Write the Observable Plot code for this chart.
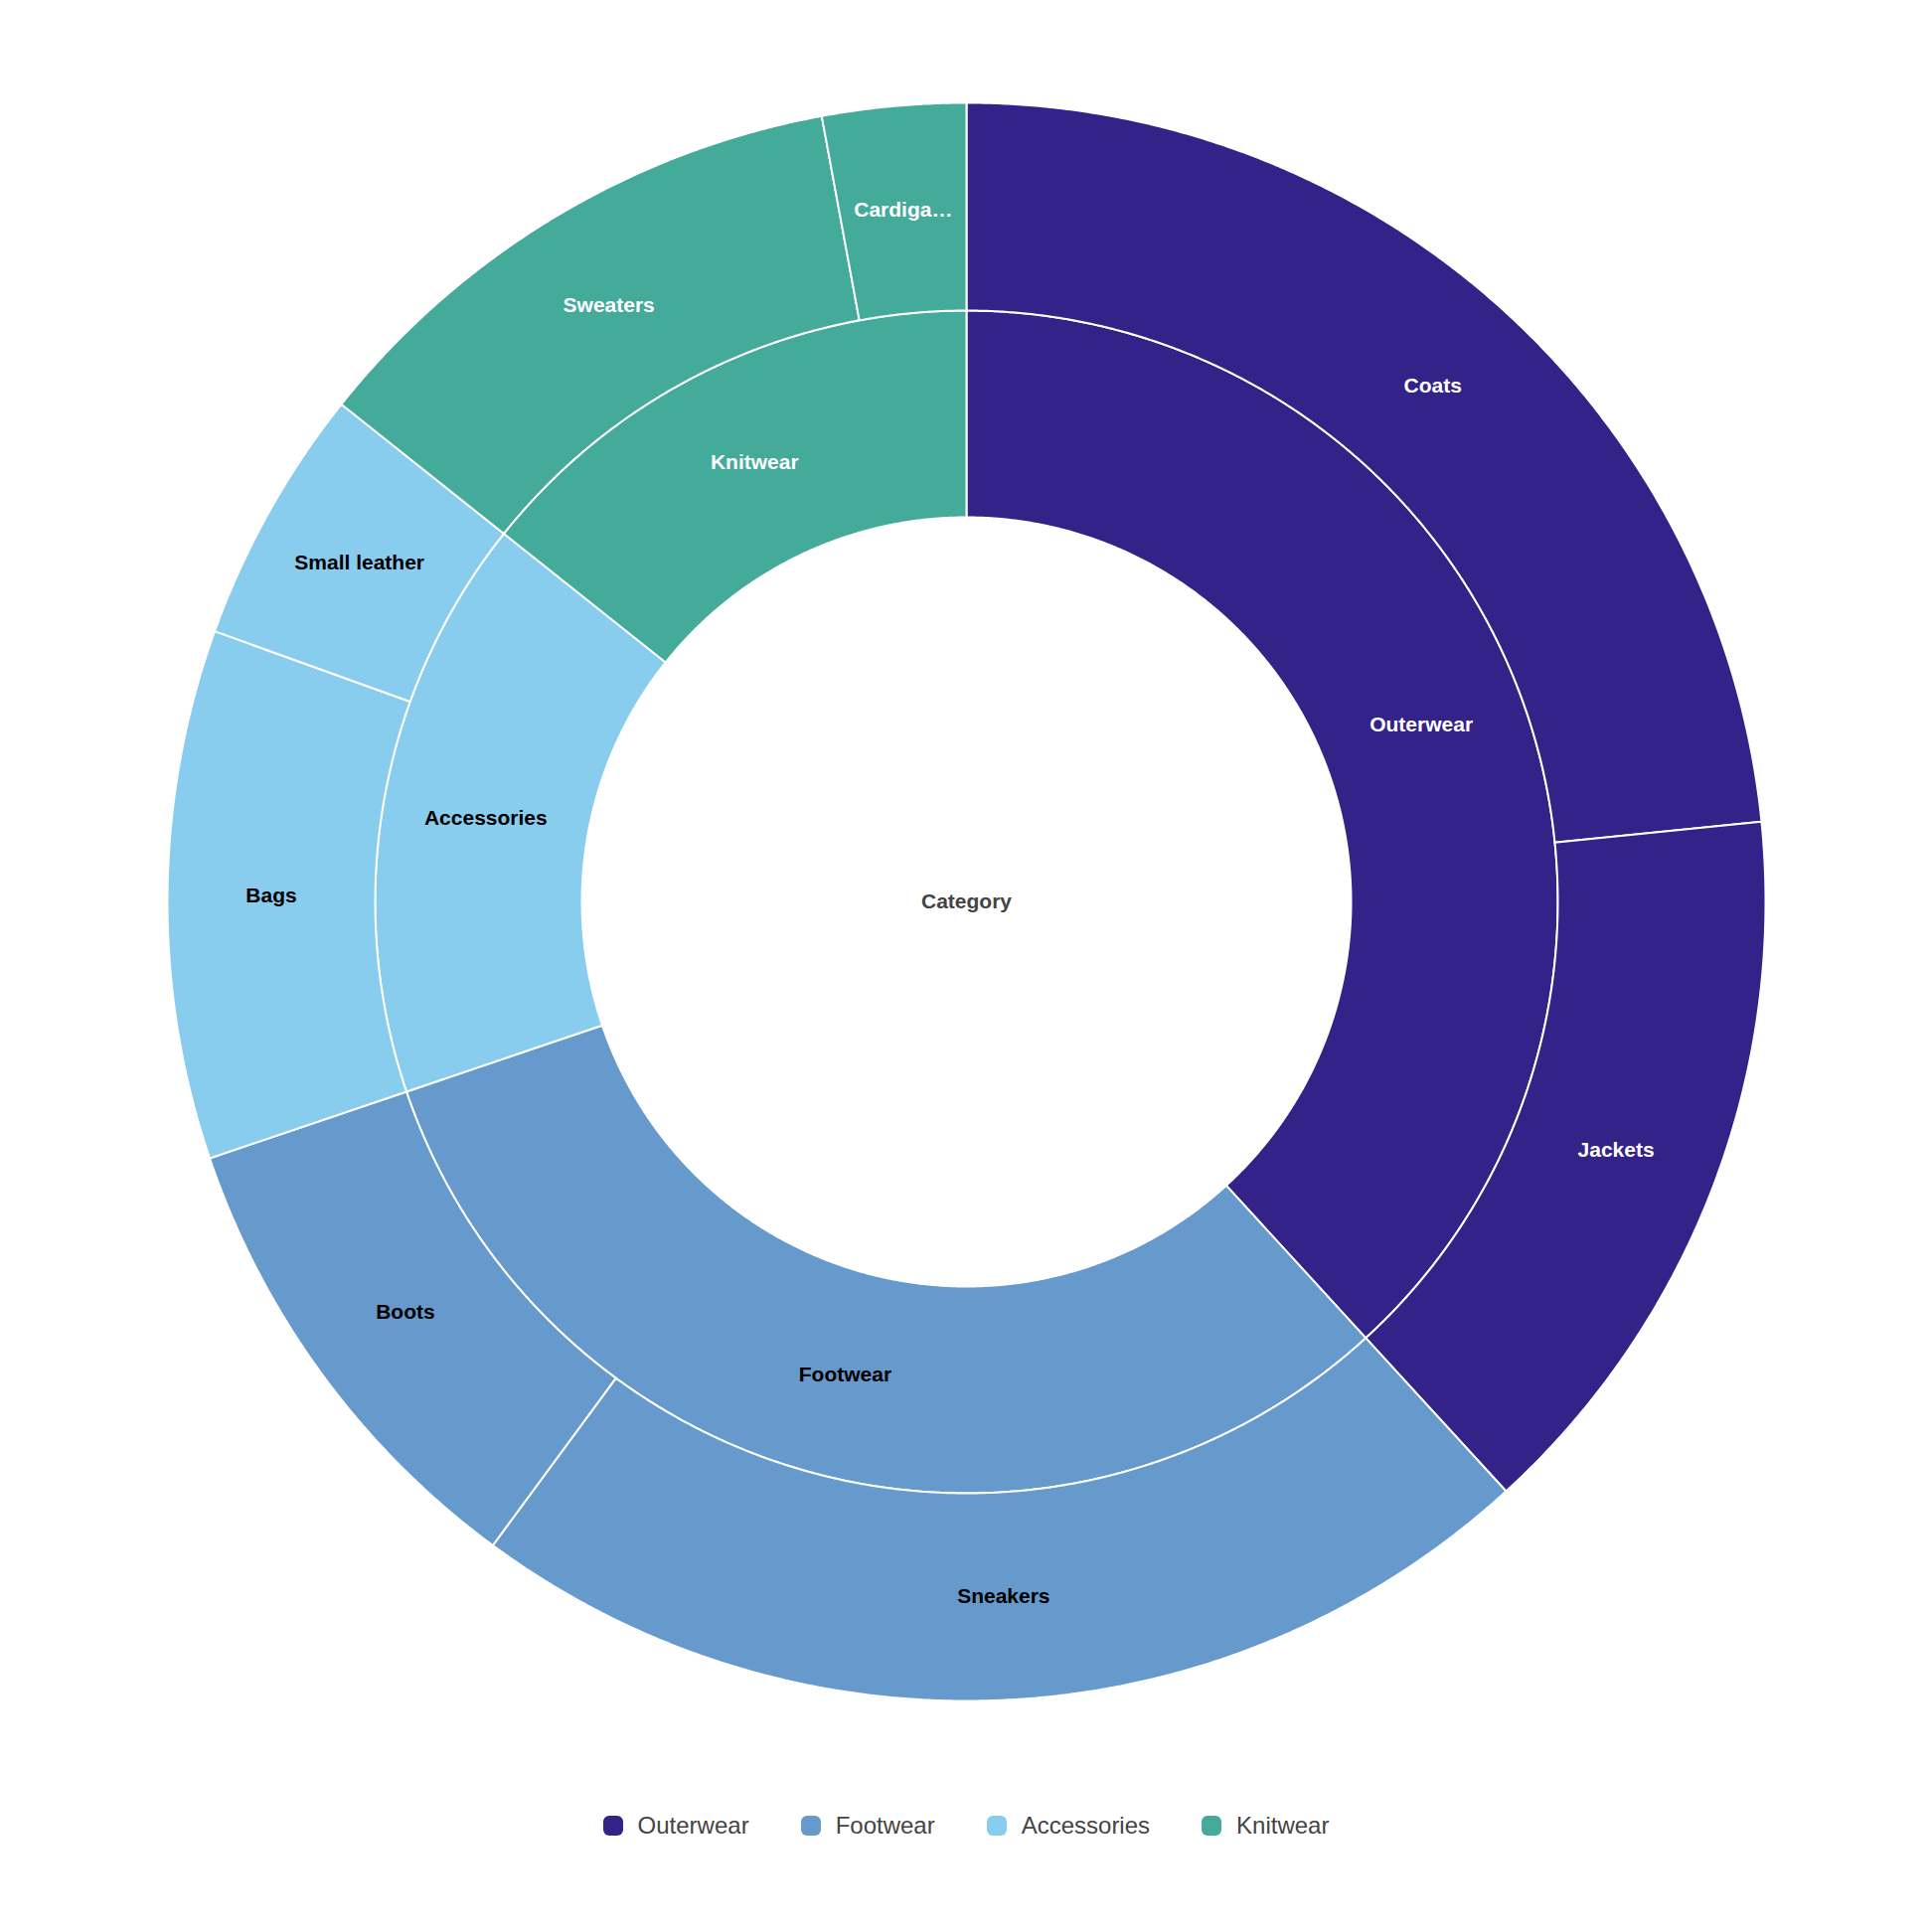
<!DOCTYPE html>
<html>
<head>
<meta charset="utf-8">
<script src="https://cdn.jsdelivr.net/npm/d3@7"></script>
<script src="https://cdn.jsdelivr.net/npm/@observablehq/plot@0.6"></script>
<style>
  html, body { margin: 0; padding: 0; background: #fff; }
  #chart { width: 1944px; }
  .legend { display: flex; justify-content: center; align-items: center; gap: 52px; height: 50px;
    font-family: "Liberation Sans", Arial, sans-serif; font-size: 24px; color: #444; }
  .legend .item { display: flex; align-items: center; gap: 15px; }
  .legend .sw { width: 20px; height: 20px; border-radius: 6px; display: inline-block; }
</style>
</head>
<body>
<div id="chart"></div>
<script>
// ---- data ----
const categories = ["Outerwear", "Footwear", "Accessories", "Knitwear"];
const colors = ["#332288", "#6699CC", "#88CCEE", "#44AA99"];
const textColors = ["white", "black", "black", "white"];
const items = ["Coats", "Jackets", "Sneakers", "Boots", "Bags", "Small leather", "Sweaters", "Cardigans"];
const itemCategory = ["Outerwear", "Outerwear", "Footwear", "Footwear", "Accessories", "Accessories", "Knitwear", "Knitwear"];
const itemValues = [234, 148, 219, 97, 107, 52, 114, 29];
const centerLabel = "Category";

// ---- geometry (radii in pixel units) ----
const R0 = 387, R1 = 595, R2 = 804;
const FONT = '"Liberation Sans", Arial, sans-serif';
const total = d3.sum(itemValues);
const catValues = categories.map(c => d3.sum(itemValues.filter((v, i) => itemCategory[i] === c)));

const canvas = document.createElement("canvas");
const ctx = canvas.getContext("2d");
ctx.font = `bold 21px ${FONT}`;
function fit(text, avail) {
  if (ctx.measureText(text).width <= avail) return text;
  let t = text;
  while (t.length > 1 && ctx.measureText(t + "…").width > avail) t = t.slice(0, -1);
  return t + "…";
}

function arcPoly(a0, a1, r0, r1) {
  const n = Math.max(2, Math.ceil((a1 - a0) / (Math.PI / 720)));
  const pts = [];
  for (let k = 0; k <= n; k++) { const a = a0 + (a1 - a0) * k / n; pts.push([r1 * Math.sin(a), r1 * Math.cos(a)]); }
  for (let k = n; k >= 0; k--) { const a = a0 + (a1 - a0) * k / n; pts.push([r0 * Math.sin(a), r0 * Math.cos(a)]); }
  pts.push(pts[0]);
  return pts;
}

const features = [];
const labels = [];
let acc = 0;
categories.forEach((c, ci) => {
  const a0 = acc / total * 2 * Math.PI, a1 = (acc + catValues[ci]) / total * 2 * Math.PI;
  features.push({type: "Feature", properties: {cat: c}, geometry: {type: "Polygon", coordinates: [arcPoly(a0, a1, R0, R1)]}});
  const am = (a0 + a1) / 2, rm = (R0 + R1) / 2;
  labels.push({x: rm * Math.sin(am), y: rm * Math.cos(am), label: fit(c, rm * (a1 - a0) * 0.8), tc: textColors[ci]});
  acc += catValues[ci];
});
acc = 0;
items.forEach((it, i) => {
  const ci = categories.indexOf(itemCategory[i]);
  const a0 = acc / total * 2 * Math.PI, a1 = (acc + itemValues[i]) / total * 2 * Math.PI;
  features.push({type: "Feature", properties: {cat: itemCategory[i]}, geometry: {type: "Polygon", coordinates: [arcPoly(a0, a1, R1, R2)]}});
  const am = (a0 + a1) / 2, rm = (R1 + R2) / 2;
  labels.push({x: rm * Math.sin(am), y: rm * Math.cos(am), label: fit(it, rm * (a1 - a0) * 0.8), tc: textColors[ci]});
  acc += itemValues[i];
});

const chart = Plot.plot({
  width: 1944,
  height: 1812,
  marginLeft: 168, marginRight: 168, marginTop: 103, marginBottom: 101,
  projection: {type: "reflect-y", domain: {type: "MultiPoint", coordinates: [[-R2, -R2], [R2, R2]]}},
  color: {domain: categories, range: colors},
  style: {background: "white", fontFamily: FONT},
  marks: [
    Plot.geo(features, {fill: d => d.properties.cat, stroke: "white", strokeWidth: 2}),
    Plot.text(labels.filter(d => d.tc === "white"), {x: "x", y: "y", text: "label", fill: "white", fontSize: 21, fontWeight: "bold"}),
    Plot.text(labels.filter(d => d.tc === "black"), {x: "x", y: "y", text: "label", fill: "black", fontSize: 21, fontWeight: "bold"}),
    Plot.text([{x: 0, y: 0, label: centerLabel}], {x: "x", y: "y", text: "label", fill: "#444", fontSize: 21, fontWeight: "bold"})
  ]
});
document.getElementById("chart").appendChild(chart);

const legend = document.createElement("div");
legend.className = "legend";
categories.forEach((c, i) => {
  const item = document.createElement("div");
  item.className = "item";
  const sw = document.createElement("span");
  sw.className = "sw";
  sw.style.background = colors[i];
  const lab = document.createElement("span");
  lab.textContent = c;
  item.appendChild(sw); item.appendChild(lab);
  legend.appendChild(item);
});
document.getElementById("chart").appendChild(legend);
</script>
</body>
</html>
